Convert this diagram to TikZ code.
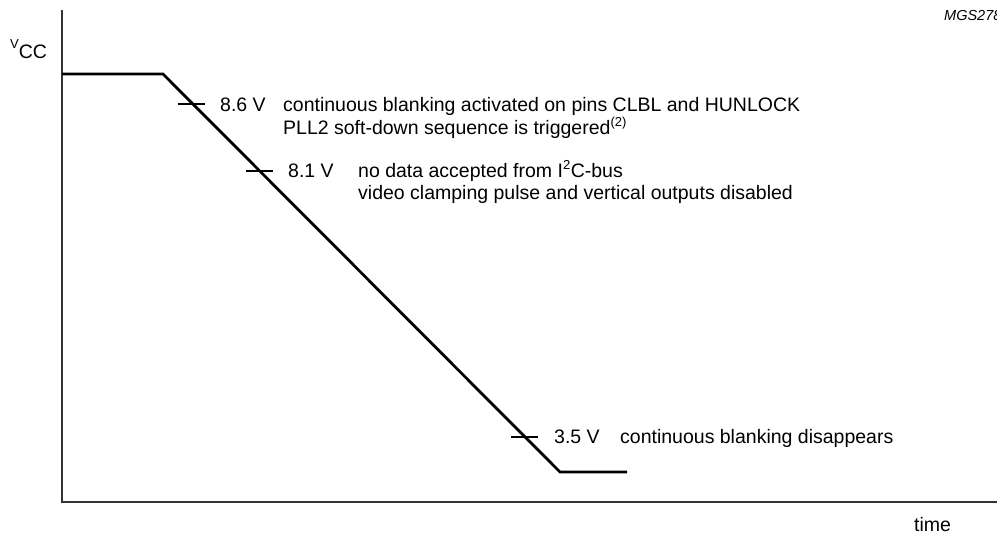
\documentclass[tikz,border=0pt]{standalone}
\usepackage{fontspec}
\setmainfont{Liberation Sans}
\begin{document}
\begin{tikzpicture}[x=1pt,y=-1pt,
  axis/.style={line width=1.3pt,black!80},
  curve/.style={line width=2.8pt,black,line join=miter},
  tickmark/.style={line width=1.2pt},
  lbl/.style={anchor=base west,inner sep=0pt,font=\fontsize{19.5}{23}\selectfont}]
\useasboundingbox (0,0) rectangle (997,536);
% axes
\coordinate (ytop) at (62,10);
\coordinate (orig) at (62,502);
\coordinate (xend) at (997,502);
\draw[axis] (ytop) -- (orig) -- (xend);
% curve
\coordinate (c0) at (62,74);
\coordinate (c1) at (163,74);
\coordinate (c2) at (560,472);
\coordinate (c3) at (627,472);
\draw[curve] (c0) -- (c1) -- (c2) -- (c3);
% ticks
\coordinate (t1a) at (178,104); \coordinate (t1b) at (205,104);
\coordinate (t2a) at (246,171); \coordinate (t2b) at (273,171);
\coordinate (t3a) at (511,437); \coordinate (t3b) at (538,437);
\draw[tickmark] (t1a) -- (t1b);
\draw[tickmark] (t2a) -- (t2b);
\draw[tickmark] (t3a) -- (t3b);
% labels
\node[lbl] (vcc) at (10,58) {\raisebox{10pt}{\fontsize{13}{13}\selectfont V}CC};
\node[lbl] (v86) at (220,111) {8.6 V};
\node[lbl] (d86a) at (283,111) {continuous blanking activated on pins CLBL and HUNLOCK};
\node[lbl] (d86b) at (283,134) {PLL2 soft-down sequence is triggered\textsuperscript{\fontsize{13}{13}\selectfont(2)}};
\node[lbl] (v81) at (288,177) {8.1 V};
\node[lbl] (d81a) at (358,177) {no data accepted from I\textsuperscript{\fontsize{13}{13}\selectfont 2}C-bus};
\node[lbl] (d81b) at (358,199) {video clamping pulse and vertical outputs disabled};
\node[lbl] (v35) at (554,443) {3.5 V};
\node[lbl] (d35) at (620,443) {continuous blanking disappears};
\node[lbl] (time) at (914,531) {time};
\node[lbl,font=\fontsize{14.5}{14.5}\itshape] (mgs) at (944,20) {MGS278};
\end{tikzpicture}
\end{document}
